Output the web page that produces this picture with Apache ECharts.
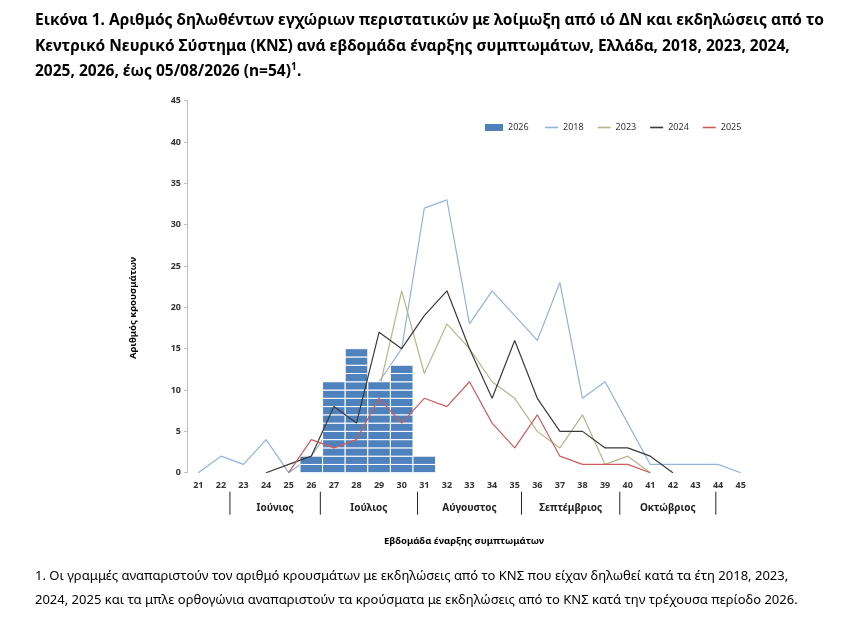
<!DOCTYPE html>
<html><head><meta charset="utf-8">
<script src="https://cdn.jsdelivr.net/npm/echarts@6/dist/echarts.min.js"></script>
<style>html,body{margin:0;padding:0;background:#fff}#c{width:857px;height:617px}</style>
</head><body><div id="c"></div>
<script>
const weeks = ['21','22','23','24','25','26','27','28','29','30','31','32','33','34','35','36','37','38','39','40','41','42','43','44','45'];
const cases2026 = [null,null,null,null,null,2,11,15,11,13,2,null,null,null,null,null,null,null,null,null,null,null,null,null,null];
const cases2018 = [0,2,1,4,0,2,6,9,11,15,32,33,18,22,19,16,23,9,11,6,1,1,1,1,0];
const cases2023 = [null,null,null,null,null,1,3,6,10,22,12,18,15,11,9,5,3,7,1,2,0,null,null,null,null];
const cases2024 = [null,null,null,0,1,2,8,6,17,15,19,22,15,9,16,9,5,5,3,3,2,0,null,null,null];
const cases2025 = [null,null,null,null,0,4,3,4,9,6,9,8,11,6,3,7,2,1,1,1,0,null,null,null,null];
const yTicks = [0,5,10,15,20,25,30,35,40,45];
const monthNames = ['Ιούνιος','Ιούλιος','Αύγουστος','Σεπτέμβριος','Οκτώβριος'];
const monthBounds = [22.4, 26.4, 30.7, 35.3, 39.65, 43.9];

const titleLines = [
  'Εικόνα 1. Αριθμός δηλωθέντων εγχώριων περιστατικών με λοίμωξη από ιό ΔΝ και εκδηλώσεις από το',
  'Κεντρικό Νευρικό Σύστημα (ΚΝΣ) ανά εβδομάδα έναρξης συμπτωμάτων, Ελλάδα, 2018, 2023, 2024,'
];
const noteLines = [
  '1. Οι γραμμές αναπαριστούν τον αριθμό κρουσμάτων με εκδηλώσεις από το ΚΝΣ που είχαν δηλωθεί κατά τα έτη 2018, 2023,',
  '2024, 2025 και τα μπλε ορθογώνια αναπαριστούν τα κρούσματα με εκδηλώσεις από το ΚΝΣ κατά την τρέχουσα περίοδο 2026.'
];

const FONT = '"Noto Sans", "Open Sans", sans-serif';
const chart = echarts.init(document.getElementById('c'), null, {renderer:'canvas'});

const barData = [];
cases2026.forEach((v,i)=>{ if(v!=null) barData.push([i, v]); });
const sepData = monthBounds.map(b=>[b]);
const monthData = monthNames.map((n,i)=>[(monthBounds[i]+monthBounds[i+1])/2, n]);

function lineSeries(name, data, color, z){
  return {name, type:'line', data, symbol:'none', showSymbol:false, connectNulls:false,
    lineStyle:{color, width:1.2}, itemStyle:{color}, z, animation:false};
}

chart.setOption({
  animation:false,
  textStyle:{fontFamily:FONT},
  grid:{left:187, right:105, top:100.7, bottom:144.3, containLabel:false},
  legend:[{
    left:480, top:118, itemWidth:18, itemHeight:7, itemGap:18,
    textStyle:{fontSize:9, color:'#333', fontFamily:FONT},
    data:[{name:'2026', icon:'rect'}]
  },{
    left:540, top:118, itemWidth:13, itemHeight:1.6, itemGap:14, icon:'rect',
    textStyle:{fontSize:9, color:'#333', fontFamily:FONT},
    data:['2018', '2023', '2024', '2025']
  }],
  xAxis:[{
    type:'category', data:weeks, boundaryGap:true,
    axisLine:{show:false}, axisTick:{show:false},
    axisLabel:{fontSize:9, fontWeight:'bold', color:'#333', margin:8, interval:0}
  },{
    type:'value', min:20.5, max:45.5, show:false
  }],
  yAxis:{
    type:'value', min:0, max:45, interval:5,
    axisLine:{show:true, lineStyle:{color:'#bfbfbf'}},
    axisTick:{show:true, length:3, lineStyle:{color:'#bfbfbf'}},
    splitLine:{show:false},
    axisLabel:{fontSize:9, fontWeight:'bold', color:'#333', margin:6}
  },
  series:[
    lineSeries('2018', cases2018, '#95b3d7', 1),
    lineSeries('2023', cases2023, '#b8b38c', 1),
    {
      name:'2026', type:'custom', data:barData, z:2, itemStyle:{color:'#4f81bd'},
      encode:{x:0, y:1},
      renderItem:function(params, api){
        const idx = api.value(0), v = api.value(1);
        const size = api.size([1,1]);
        const children = [];
        for(let k=0;k<v;k++){
          const p0 = api.coord([idx,k]), p1 = api.coord([idx,k+1]);
          children.push({type:'rect', shape:{x:p0[0]-size[0]/2, y:p1[1], width:size[0], height:p0[1]-p1[1]},
            style:{fill:'#4f81bd', stroke:'#ffffff', lineWidth:1}});
        }
        return {type:'group', children};
      }
    },
    lineSeries('2024', cases2024, '#3a3a3a', 5),
    lineSeries('2025', cases2025, '#cd5c5c', 5),
    {
      name:'sep', type:'custom', xAxisIndex:1, yAxisIndex:0, data:sepData, silent:true, clip:false,
      renderItem:function(params, api){
        const p = api.coord([api.value(0), 0]);
        return {type:'line', shape:{x1:p[0], y1:p[1]+19, x2:p[0], y2:p[1]+42}, style:{stroke:'#222', lineWidth:1}};
      }
    },
    {
      name:'months', type:'custom', xAxisIndex:1, yAxisIndex:0, data:monthData, silent:true, clip:false,
      dimensions:['x','label'],
      renderItem:function(params, api){
        const p = api.coord([api.value(0), 0]);
        return {type:'text', style:{text:monthData[params.dataIndex][1], x:p[0], y:p[1]+35, align:'center', verticalAlign:'middle',
          font:'bold 10px ' + FONT, fill:'#222'}};
      }
    }
  ],
  graphic:[
    {type:'text', left:35, top:13, style:{text:titleLines[0], font:'bold 15.5px '+FONT, fill:'#000'}},
    {type:'text', left:35, top:39, style:{text:titleLines[1], font:'bold 15.5px '+FONT, fill:'#000'}},
    {type:'text', left:35, top:64, style:{text:'2025, 2026, έως 05/08/2026 (n=54)', font:'bold 15.5px '+FONT, fill:'#000'}},
    {type:'text', left:291, top:62, style:{text:'1', font:'bold 10px '+FONT, fill:'#000'}},
    {type:'text', left:297, top:64, style:{text:'.', font:'bold 15.5px '+FONT, fill:'#000'}},
    {type:'text', x:133, y:308, rotation:Math.PI/2, style:{text:'Αριθμός κρουσμάτων', font:'bold 9.5px '+FONT, fill:'#000', align:'center', verticalAlign:'middle'}},
    {type:'text', x:464, y:541, style:{text:'Εβδομάδα έναρξης συμπτωμάτων', font:'bold 9.5px '+FONT, fill:'#000', align:'center', verticalAlign:'middle'}},
    {type:'text', left:35, top:570, style:{text:noteLines[0], font:'13px '+FONT, fill:'#000'}},
    {type:'text', left:35, top:594, style:{text:noteLines[1], font:'13px '+FONT, fill:'#000'}}
  ]
});
</script></body></html>
